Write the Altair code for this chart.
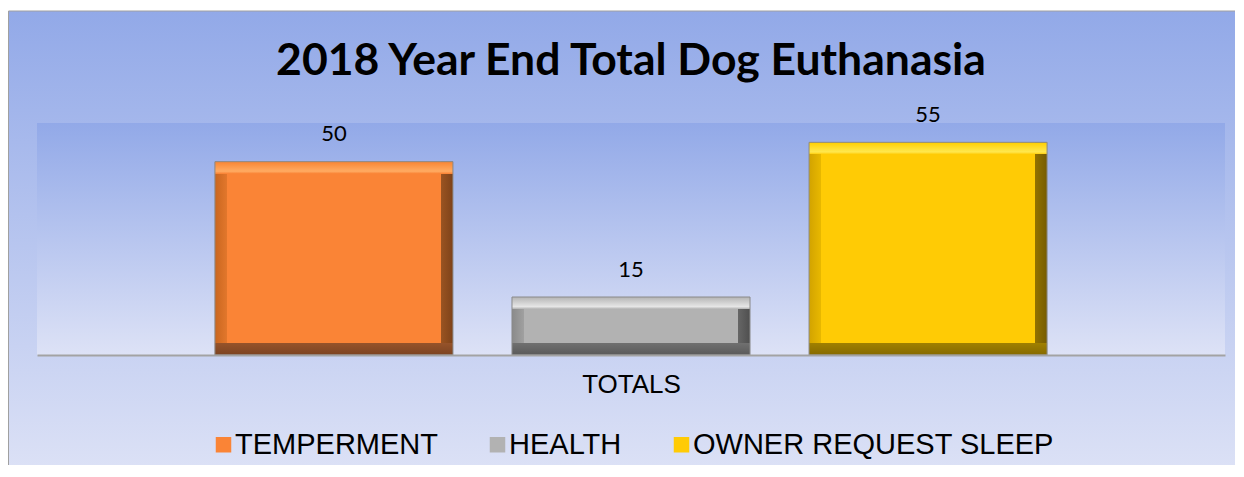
import altair as alt
import pandas as pd

# ---- data ----
series = ["TEMPERMENT", "HEALTH", "OWNER REQUEST SLEEP"]
values = [50, 15, 55]
category = "TOTALS"
chart_title = "2018 Year End Total Dog Euthanasia"

# ---- style ----
main_colors = ["#fa8436", "#b2b2b2", "#ffcb05"]
left_colors = ["#c9661f", "#8a8a8a", "#d2a300"]
left_in_colors = ["#e2772c", "#a0a0a0", "#e8b800"]
right_colors = ["#7e4219", "#4f4f4f", "#765c00"]
right_in_colors = ["#9a5422", "#666666", "#927200"]
top_edge_colors = ["#f98532", "#b4b4b4", "#ffcf00"]
top_hl_colors = ["#ffab62", "#e6e6e6", "#ffe84f"]
bottom_colors = ["#7c4422", "#5a5a5a", "#866a00"]
bottom_in_colors = ["#96532a", "#707070", "#a08000"]

W, H = 1188, 232
YMAX = 60
BEVEL = 12

df = pd.DataFrame({"series": series, "value": values, "cat": [category] * len(series)})
one = pd.DataFrame({"title": [chart_title]})


def grad(stops, vertical):
    return {
        "gradient": "linear",
        "x1": 0, "y1": 0,
        "x2": 0 if vertical else 1,
        "y2": 1 if vertical else 0,
        "stops": [{"offset": o, "color": c} for o, c in stops],
    }


bg_stops = [(0, "#92a9e8"), (1, "#dde2f6")]

x_enc = alt.X(
    "series:N", sort=series,
    scale=alt.Scale(paddingInner=0.1987, paddingOuter=0.599),
    axis=alt.Axis(labels=False, ticks=False, title=category, domainColor="#a3a3a3",
                  domainWidth=2, titleFont="Liberation Sans", titleFontSize=26,
                  titleFontWeight="normal", titleColor="black", titlePadding=16,
                  zindex=1, grid=False),
)
y_enc = alt.Y("value:Q", scale=alt.Scale(domain=[0, YMAX]), axis=None)

outer_bg = alt.Chart(one).mark_rect(
    fill=grad(bg_stops, True), stroke="#a0a0a0", strokeWidth=1
).encode(x=alt.value(-28.5), x2=alt.value(W + 40), y=alt.value(-112), y2=alt.value(H + 122))

plot_bg = alt.Chart(one).mark_rect(fill=grad(bg_stops, True)).encode(
    x=alt.value(0), x2=alt.value(W), y=alt.value(0), y2=alt.value(H)
)

title_mark = alt.Chart(one).mark_text(
    font="Lato", fontSize=44.5, fontWeight="bold", color="black", baseline="middle", align="center"
).encode(x=alt.value(W / 2), y=alt.value(-61), text="title:N")

base = alt.Chart(df).mark_bar().encode(
    x=x_enc, y=y_enc,
    color=alt.Color(
        "series:N", sort=series,
        scale=alt.Scale(domain=series, range=main_colors),
        legend=alt.Legend(
            orient="none", legendX=172, legendY=307, direction="horizontal", title=None,
            labelFont="Liberation Sans", labelFontSize=29, labelColor="black",
            symbolType="square", symbolSize=240, symbolStrokeWidth=0, symbolOpacity=1,
            labelOffset={"expr": "-3"}, columnPadding=45, labelLimit=0, zindex=1, padding=0,
        ),
    ),
)

px_per_unit = H / YMAX
bar_w = 238
overlays = []
for i, s in enumerate(series):
    fh = BEVEL / bar_w
    fv = BEVEL / (values[i] * px_per_unit)
    hstops = [(0, left_colors[i]), (fh, left_in_colors[i]), (fh, main_colors[i]),
              (1 - fh, main_colors[i]), (1 - fh, right_in_colors[i]), (1, right_colors[i])]
    vstops = [(0, top_edge_colors[i]), (fv * 0.8, top_hl_colors[i]), (fv, main_colors[i]),
              (fv, "rgba(0,0,0,0)"), (1 - fv, "rgba(0,0,0,0)"), (1 - fv, bottom_in_colors[i]),
              (1, bottom_colors[i])]
    h = alt.Chart(df).transform_filter(alt.datum.series == s).mark_bar(
        fill=grad(hstops, False)
    ).encode(x=x_enc, y=y_enc)
    v = alt.Chart(df).transform_filter(alt.datum.series == s).mark_bar(
        fill=grad(vstops, True), stroke="#8a8a8a", strokeWidth=1
    ).encode(x=x_enc, y=y_enc)
    overlays += [h, v]

labels = alt.Chart(df).mark_text(
    font="Lato", fontSize=22, baseline="middle", dy=-27.5, color="black"
).encode(x=x_enc, y=y_enc, text="value:Q")

chart = alt.layer(outer_bg, plot_bg, title_mark, base, *overlays, labels).properties(
    width=W, height=H,
    padding={"left": 29, "top": 115, "right": 10, "bottom": 110},
    autosize="none",
).configure_view(stroke=None)

chart.save("out.html", embed_options={"renderer": "svg", "actions": False})
